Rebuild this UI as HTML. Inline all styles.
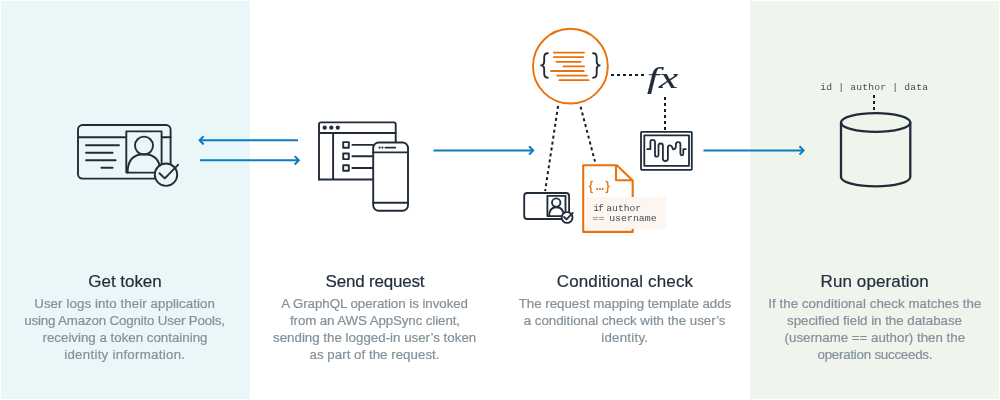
<!DOCTYPE html>
<html lang="en">
<head>
<meta charset="utf-8">
<title>AppSync authorization flow</title>
<style>
html,body{margin:0;padding:0;background:#fff;}
body{width:1000px;height:400px;overflow:hidden;position:relative;font-family:"Liberation Sans",sans-serif;}
svg{position:absolute;left:0;top:0;display:block;will-change:transform;}
.t{font-family:"Liberation Sans",sans-serif;font-size:17px;fill:#232f3e;stroke:#232f3e;stroke-width:0.2px;text-anchor:middle;}
.b{font-family:"Liberation Sans",sans-serif;font-size:13.3px;fill:#84919a;stroke:#84919a;stroke-width:0.22px;text-anchor:middle;}
.m{font-family:"Liberation Mono",monospace;font-size:9.7px;fill:#454e58;}
.k{fill:none;stroke:#212c3a;stroke-width:1.9;stroke-linecap:round;stroke-linejoin:round;}
.a{fill:none;stroke:#0a7dc0;stroke-width:2;stroke-linecap:butt;stroke-linejoin:miter;}
.o{fill:none;stroke:#e8720c;stroke-width:1.8;stroke-linecap:round;stroke-linejoin:round;}
.d{fill:none;stroke:#141c28;stroke-width:2;stroke-dasharray:3 3;}
</style>
</head>
<body>
<svg width="1000" height="400" viewBox="0 0 1000 400">
<!-- panels -->
<rect x="1" y="1" width="249" height="398" fill="#eaf7f8"/>
<rect x="750" y="1" width="249" height="398" fill="#eff4ed"/>

<!-- ID card icon -->
<g class="k">
<rect x="78" y="125" width="92.6" height="53.6" rx="4.5"/>
<path d="M78 137.3H126.3M161.6 137.3H170.6"/>
<rect x="126.3" y="131.4" width="35.3" height="41.2" fill="#eaf7f8"/>
<circle cx="144" cy="145.6" r="9"/>
<path d="M127.6 172.6C127.6 160 133.6 154.2 144 154.2S160.4 160 160.4 172.6"/>
<path d="M86 145.3H119M86 152.8H112.6M86 160.2H115.6M101.4 167.8H112.6"/>
<circle cx="166" cy="174.7" r="11.2" fill="#eaf7f8"/>
<path d="M159.4 173.2L164.8 178.4L178 164.8"/>
</g>

<!-- arrows -->
<g class="a">
<path d="M298 140.3H200M203.7 136.1L199.6 140.3L203.7 144.5"/>
<path d="M200 160.3H298.4M294.7 156.1L298.8 160.3L294.7 164.5"/>
<path d="M433.5 150.4H532.8M529.1 146.2L533.2 150.4L529.1 154.6"/>
<path d="M703.5 150.4H803.2M799.5 146.2L803.6 150.4L799.5 154.6"/>
</g>

<!-- browser + phone -->
<g class="k">
<path d="M319 179.5V124.4a2 2 0 0 1 2-2H393.7a2 2 0 0 1 2 2V143"/>
<path d="M319 179.5H373M319 133H395.7M333.1 133V179.5"/>
<rect x="343.2" y="142.1" width="5.6" height="5.6"/>
<rect x="343.2" y="153.5" width="5.6" height="5.6"/>
<rect x="343.2" y="165.2" width="5.6" height="5.6"/>
<path d="M352.4 144.9H373M352.4 156.3H373M352.4 168H373"/>
<rect x="373.2" y="142.5" width="34.8" height="68.2" rx="5.5" fill="#fff"/>
<path d="M373.2 152.4H408M373.2 202.8H408M385.4 147.6H395.2"/>
</g>
<g fill="#212c3a">
<circle cx="324.7" cy="127.7" r="2.1"/><circle cx="331.3" cy="127.7" r="2.1"/><circle cx="337.8" cy="127.7" r="2.1"/>
<circle cx="379.6" cy="147.6" r="1.1"/><circle cx="382.4" cy="147.6" r="1.1"/>
</g>

<!-- orange circle template -->
<circle class="o" cx="570.4" cy="66.15" r="37.4" style="stroke-width:1.9"/>
<g class="o">
<path d="M553.8 52.6H584M553.8 57.1H583.4M556.4 61.8H580.6M563.4 66.4H584M551 71H583.8M557.2 75.7H587M559.4 80.2H588.6"/>
</g>
<g class="k" style="stroke-width:1.9">
<path d="M547.8 53.2C544.6 53.2 544.2 54.8 544.2 57.4V61.6C544.2 64 543 65.2 541.2 65.4C543 65.6 544.2 66.8 544.2 69.2V73.6C544.2 76.2 544.6 77.8 547.8 77.8"/>
<path d="M593.1 53.2C596.3 53.2 596.7 54.8 596.7 57.4V61.6C596.7 64 597.9 65.2 599.7 65.4C597.9 65.6 596.7 66.8 596.7 69.2V73.6C596.7 76.2 596.3 77.8 593.1 77.8"/>
</g>

<!-- dotted connectors -->
<g class="d">
<path d="M611 75H647"/>
<path d="M665 97V131"/>
<path d="M558.1 106L545.1 191"/>
<path d="M580.6 106.7L595 161.6"/>
<path d="M874 95V111"/>
</g>

<!-- fx -->
<text x="0" y="0" transform="translate(647 88.2) scale(1.43 1)" style="font-family:'Liberation Serif',serif;font-style:italic;font-size:30px;fill:#212c3a;stroke:#212c3a;stroke-width:0.12;">fx</text>

<!-- monitor -->
<g class="k" style="stroke-width:1.8">
<rect x="641" y="131.8" width="50.8" height="38.1" rx="0.8" fill="#fff"/>
<rect x="644.3" y="135.3" width="44.7" height="30.5"/>
<path d="M647.3 149.2H650.4V142.2a2.3 2.3 0 0 1 4.6 0V154.9a1.75 1.75 0 0 0 3.5 0V145.7a2.2 2.2 0 0 1 4.4 0V158.6a2.5 2.5 0 0 0 5 0V147.6C667.9 144.7 671.4 144.6 672.2 147.2L673.1 149.4C674.6 149.4 675.9 148 675.9 145.4V144.3a2.25 2.25 0 0 1 4.5 0V153.8a1.45 1.45 0 0 0 2.9 0V149.2H685.8"/>
</g>

<!-- small id card -->
<g class="k" style="stroke-width:1.85">
<rect x="524.2" y="193" width="44.9" height="26" rx="3" fill="#fff"/>
<rect x="547.4" y="195.9" width="18.1" height="20.2"/>
<circle cx="556.2" cy="202.6" r="4.2"/>
<path d="M549.2 216.1C549.2 210.4 551.6 207.2 556.4 207.2S563.7 210.4 563.7 216.1"/>
<circle cx="567.1" cy="217.5" r="5.4" fill="#fff"/>
<path d="M564.1 217L566.5 219.3L572.8 212.9"/>
</g>

<!-- document -->
<g class="o" style="stroke-width:2.1;stroke-linejoin:round;stroke-linecap:butt">
<path d="M632.7 198V180.4L616.8 165.3H583.2V231.9H632.7V228"/>
<path d="M616 165.8V180.3H632.7"/>
</g>
<rect x="586" y="197" width="79.8" height="31.8" fill="#fdf6f0"/>
<text x="588.8" y="190.2" style="font-family:'Liberation Sans',sans-serif;font-weight:bold;font-size:12.5px;fill:#e8720c;"><tspan style="font-weight:normal;stroke:#e8720c;stroke-width:0.35">{</tspan><tspan dx="-0.2" style="letter-spacing:-0.7px"> ...</tspan><tspan dx="1.5" style="font-weight:normal;stroke:#e8720c;stroke-width:0.35">}</tspan></text>
<text class="m" x="593.2" y="210.5"><tspan style="letter-spacing:-0.9px">if </tspan><tspan dx="-1.7">author</tspan></text>
<text class="m" x="592.5" y="221.3" style="font-size:9.9px"><tspan>== </tspan><tspan dx="-1.1">username</tspan></text>

<!-- database -->
<g class="k" style="stroke-width:2.3">
<ellipse cx="875.65" cy="122.5" rx="34.65" ry="9.4"/>
<path d="M841 122.5V177A34.65 9.4 0 0 0 910.3 177V122.5"/>
</g>
<text class="m" x="820.3" y="89.6" style="font-size:9.7px;letter-spacing:0.18px">id | author | data</text>

<!-- titles -->
<text class="t" x="125" y="286.8" textLength="73.5">Get token</text>
<text class="t" x="375" y="286.8" textLength="99">Send request</text>
<text class="t" x="624.9" y="286.8" textLength="136.2">Conditional check</text>
<text class="t" x="874.6" y="286.8" textLength="108.2">Run operation</text>

<!-- body copy -->
<text class="b" x="124.6" y="308" textLength="180.8">User logs into their application</text>
<text class="b" x="124.6" y="325" textLength="200.8">using Amazon Cognito User Pools,</text>
<text class="b" x="125" y="342" textLength="165">receiving a token containing</text>
<text class="b" x="124.6" y="358.8" textLength="120.8">identity information.</text>

<text class="b" x="374.6" y="308" textLength="186.8">A GraphQL operation is invoked</text>
<text class="b" x="375" y="325" textLength="170">from an AWS AppSync client,</text>
<text class="b" x="374.6" y="342" textLength="203.2">sending the logged-in user’s token</text>
<text class="b" x="374.5" y="358.8" textLength="130">as part of the request.</text>

<text class="b" x="625" y="308" textLength="212.5">The request mapping template adds</text>
<text class="b" x="624.6" y="325" textLength="201.8">a conditional check with the user’s</text>
<text class="b" x="624.6" y="342" textLength="46.8">identity.</text>

<text class="b" x="874.8" y="308" textLength="213">If the conditional check matches the</text>
<text class="b" x="874.5" y="325" textLength="175">specified field in the database</text>
<text class="b" x="874.8" y="342" textLength="180.5">(username == author) then the</text>
<text class="b" x="875" y="358.8" textLength="115">operation succeeds.</text>
</svg>
</body>
</html>
